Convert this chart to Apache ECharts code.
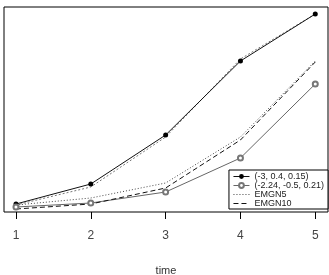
<!DOCTYPE html>
<html lang="en">
<head>
  <meta charset="UTF-8">
  <title>time</title>
  <script src="https://cdn.jsdelivr.net/npm/echarts@6/dist/echarts.min.js"></script>
  <style>body{margin:0;background:#fff}</style>
</head>
<body>
  <div id="main" style="width: 329px; height: 275px;"></div>
  <script>
    // values (no y scale shown, arbitrary units)
    var times = [1, 2, 3, 4, 5];
    var s1 = [8, 28, 77, 151, 198];      // (-3, 0.4, 0.15)
    var s2 = [5, 9, 20, 54, 128];        // (-2.24, -0.5, 0.21)
    var emgn5 = [7, 14, 29, 75, 151];
    var emgn10 = [3, 8, 24, 72, 150];
    var shadow1 = [7, 25, 75, 153, 198]; // faint line lying on top of the first series
    var names = ['(-3, 0.4, 0.15)', '(-2.24, -0.5, 0.21)', 'EMGN5', 'EMGN10'];

    function pts(arr) {
      return times.map(function (t, i) { return [t, arr[i]]; });
    }

    var myChart = echarts.init(document.getElementById('main'));
    var option = {
      animation: false,
      textStyle: { fontFamily: 'Liberation Sans' },
      grid: {
        left: 4, right: 1, top: 7, bottom: 63,
        outerBoundsMode: 'none',
        show: true, borderColor: '#000', borderWidth: 1
      },
      legend: {
        // the two line-only series get no marker in their key
        data: [
          { name: names[0] },
          { name: names[1] },
          { name: names[2], itemStyle: { opacity: 0 } },
          { name: names[3], itemStyle: { opacity: 0 } }
        ],
        orient: 'vertical',
        right: 1, top: 170,
        itemWidth: 16, itemHeight: 6, itemGap: 0,
        padding: [2, 4, 1, 4],
        borderColor: '#000', borderWidth: 1,
        backgroundColor: '#fff',
        lineStyle: { width: 1 },
        textStyle: { fontSize: 9, color: '#222', lineHeight: 7 }
      },
      xAxis: {
        type: 'value',
        min: 0.84, max: 5.17,
        name: 'time', nameLocation: 'middle', nameGap: 53,
        nameTextStyle: { fontSize: 11, color: '#333' },
        axisLine: { show: false },
        splitLine: { show: false },
        axisTick: { show: true, length: 7, inside: false, customValues: times, lineStyle: { color: '#000' } },
        axisLabel: { customValues: times, fontSize: 12, color: '#444', margin: 18 }
      },
      yAxis: {
        type: 'value', min: 0, max: 205,
        axisLine: { show: false }, axisTick: { show: false },
        axisLabel: { show: false }, splitLine: { show: false }
      },
      series: [
        {
          name: 'shadow', type: 'line', data: pts(shadow1), symbol: 'none', silent: true,
          lineStyle: { color: '#777', width: 1, type: [2, 2] }
        },
        {
          name: names[0], type: 'line', data: pts(s1),
          symbol: 'circle', symbolSize: 5,
          itemStyle: { color: '#000' },
          lineStyle: { color: '#111', width: 1 }
        },
        {
          name: names[1], type: 'line', data: pts(s2),
          symbol: 'emptyCircle', symbolSize: 5,
          itemStyle: { color: '#777', borderWidth: 1 },
          lineStyle: { color: '#666', width: 1 }
        },
        {
          name: names[2], type: 'line', data: pts(emgn5), symbol: 'none',
          itemStyle: { color: '#444' },
          lineStyle: { color: '#444', width: 1, type: [1, 2] }
        },
        {
          name: names[3], type: 'line', data: pts(emgn10), symbol: 'none',
          itemStyle: { color: '#111' },
          lineStyle: { color: '#111', width: 1, type: [5, 3] }
        }
      ]
    };
    myChart.setOption(option);
  </script>
</body>
</html>
